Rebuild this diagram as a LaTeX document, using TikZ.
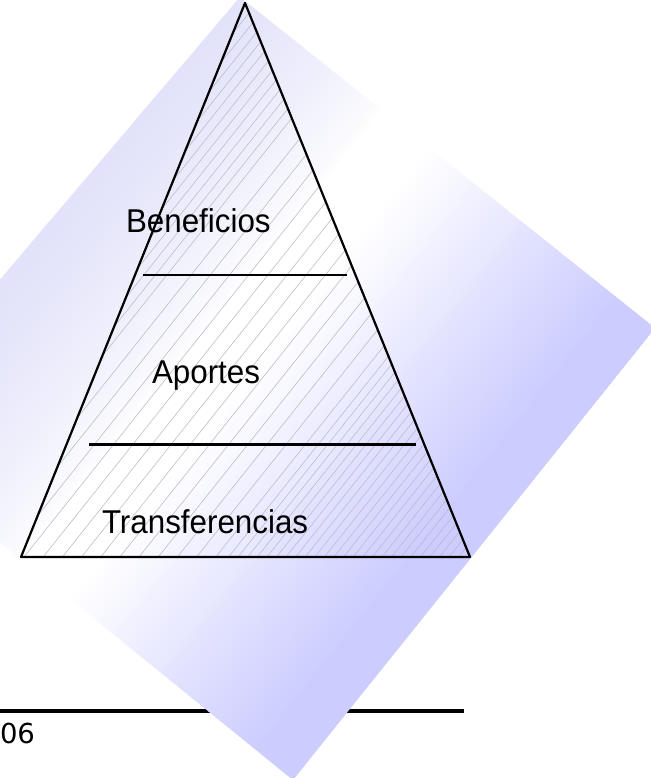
\documentclass[tikz,border=0pt]{standalone}
\usepackage{fontspec}
\setmainfont{Liberation Sans}
\newfontfamily\lblfont[FakeStretch=0.95]{Liberation Sans}
\newfontfamily\dejavufont{DejaVu Sans}
\usetikzlibrary{calc}
\definecolor{lavA}{RGB}{226,226,250}
\definecolor{lavB}{RGB}{204,204,255}
\definecolor{hatchc}{RGB}{186,186,200}
\tikzset{
  outline/.style={draw=black, line width=2.2pt, line join=round},
  divider/.style={draw=black, line width=2.4pt},
  baserule/.style={draw=black, line width=3.6pt},
  hatchline/.style={draw=hatchc, line width=0.55pt},
  lbl/.style={inner sep=0pt, outer sep=0pt, anchor=base west, font=\lblfont\fontsize{33}{39}\selectfont},
  footlbl/.style={inner sep=0pt, outer sep=0pt, anchor=base west, font=\dejavufont\fontsize{27.5}{32}\selectfont}
}
\begin{document}
\begin{tikzpicture}[x=1pt,y=-1pt]
\useasboundingbox (0,0) rectangle (650,778);
\fill[white] (0,0) rectangle (650,778);

% footer rule (under the diamond)
\coordinate (rule0) at (0,711);
\coordinate (rule1) at (464,711);
\draw[baserule] (rule0) -- (rule1);

% rotated gradient diamond
\coordinate (T) at (240,-3);
\coordinate (R) at (655,328);
\coordinate (B) at (293,780);
\coordinate (L) at (-132,435);
\begin{scope}
  \clip (T) -- (R) -- (B) -- (L) -- cycle;
  \foreach \k in {-5,...,108} {
    \pgfmathsetmacro\s{5*\k}
    \pgfmathtruncatemacro\pa{max(0,min(100,100*pow(max(0.001,1-\s/180),0.7)))}
    \pgfmathtruncatemacro\pb{max(0,min(100,(\s-240)/2.4))}
    \colorlet{tmpc}{lavB!\pb!white}
    \colorlet{tmpd}{lavA!\pa!tmpc}
    \fill[tmpd]
      ({240+0.782*\s+0.623*250},{-3+0.623*\s-0.782*250}) --
      ({240+0.782*\s-0.623*1000},{-3+0.623*\s+0.782*1000}) --
      ({240+0.782*(\s+6)-0.623*1000},{-3+0.623*(\s+6)+0.782*1000}) --
      ({240+0.782*(\s+6)+0.623*250},{-3+0.623*(\s+6)-0.782*250}) -- cycle;
  }
\end{scope}

% pyramid
\coordinate (apex) at (245,3);
\coordinate (bl) at (21,557);
\coordinate (br) at (470,557);
\begin{scope}
  \clip (apex) -- (br) -- (bl) -- cycle;
  \foreach \s in {8,17,...,120,135,150,...,330,340,347.5,...,535} {
    \draw[hatchline]
      ({240+0.782*\s+0.623*250},{-3+0.623*\s-0.782*250}) --
      ({240+0.782*\s-0.623*1000},{-3+0.623*\s+0.782*1000});
  }
\end{scope}
\draw[outline] (apex) -- (br) -- (bl) -- cycle;

\coordinate (d1a) at (143,275);
\coordinate (d1b) at (347,275);
\coordinate (d2a) at (89,444.5);
\coordinate (d2b) at (416,444.5);
\draw[divider] (d1a) -- (d1b);
\draw[divider] (d2a) -- (d2b);

\node[lbl] (ben) at (126,232) {Beneficios};
\node[lbl] (apo) at (152,383) {Aportes};
\node[lbl] (tra) at (102,533) {Transferencias};

\node[footlbl] (foot) at (0,743.5) {06};
\end{tikzpicture}
\end{document}
